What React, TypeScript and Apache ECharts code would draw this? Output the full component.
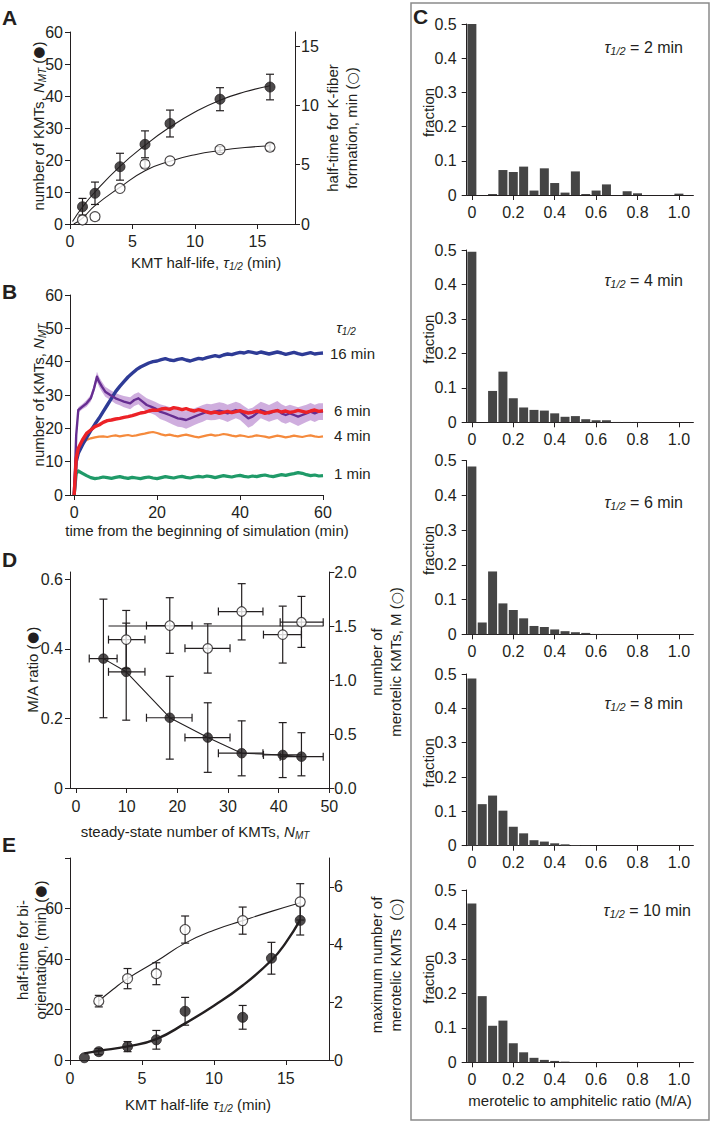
import React, { useEffect, useRef } from 'react';
import * as echarts from 'echarts';

const F = "'Liberation Sans Narrow','Liberation Sans',Arial,sans-serif";
const INK = '#231f20';

// ---------- Panel A ----------
const aTau = [1, 2, 4, 6, 8, 12, 16];
const aKmt = [5.4, 9.6, 17.9, 24.9, 31.4, 39.0, 42.8];
const aKmtErr = [2.6, 3.5, 4.2, 4.2, 4.2, 3.6, 4.0];
const aFiber = [0.34, 0.62, 3.0, 5.05, 5.33, 6.28, 6.48];
const aFiberErr = [0, 0, 0, 0.3, 0, 0.25, 0.3];
const aKmtFit = [[0.2, 0.8], [1, 5.3], [2, 10], [4, 18], [6, 24.6], [8, 30.3], [10, 35], [12, 38.7], [14, 41.3], [16, 43.2]];
const aFiberFit = [[0.3, 0], [1, 0.5], [2, 1.55], [4, 3.1], [6, 4.5], [8, 5.3], [10, 5.85], [12, 6.2], [14, 6.45], [16, 6.6]];
const aXTicks = [0, 5, 10, 15];
const aYTicks = [0, 10, 20, 30, 40, 50, 60];
const aY2Ticks = [0, 5, 10, 15];

// ---------- Panel B ----------
const bXTicks = [0, 20, 40, 60];
const bYTicks = [0, 10, 20, 30, 40, 50, 60];
const bBlue = [[0,0],[0.5,10],[1,12.5],[2,15],[3,17.2],[4,19.3],[5,21.2],[6,23],[7,25],[8,27],[9,29],[10,31],[11,32.6],[12,34],[13,35.4],[14,36.5],[15,37.6],[16,38.4],[17,39],[18,39.6],[19,40],[20,40.2],[21,40.6],[22,40.9],[23,40.5],[24,40.3],[25,40.7],[26,40.9],[27,40.5],[28,40.2],[29,40.6],[30,41],[31,40.8],[32,41.2],[33,41.5],[34,41.8],[35,41.5],[36,42],[37,42.3],[38,42.1],[39,42.5],[40,42.8],[41,42.6],[42,43],[43,42.8],[44,42.5],[45,42.9],[46,42.6],[47,42.3],[48,42.6],[49,42.9],[50,42.6],[51,42.2],[52,42.5],[53,42.8],[54,42.4],[55,42.1],[56,42.4],[57,42.7],[58,42.3],[59,42.5],[60,42.6]];
const bRed = [[0,0],[0.5,11],[1,14],[2,16.5],[3,18.5],[4,19.5],[5,20.5],[6,21],[7,21.8],[8,22.3],[9,22.5],[10,22.8],[11,23],[12,23.3],[13,23.5],[14,23.8],[15,24.2],[16,24.6],[17,24.8],[18,25.2],[19,25.5],[20,25.4],[21,25.8],[22,26],[23,25.7],[24,26.2],[25,26],[26,25.6],[27,25.9],[28,25.5],[29,25.2],[30,25.6],[31,25.3],[32,24.9],[33,24.6],[34,24.9],[35,24.5],[36,24.8],[37,25.1],[38,24.7],[39,25],[40,25.3],[41,24.9],[42,24.6],[43,24.8],[44,25.2],[45,24.9],[46,24.5],[47,24.8],[48,25.1],[49,25.3],[50,24.9],[51,25.2],[52,24.8],[53,25],[54,25.4],[55,25.1],[56,24.8],[57,25.2],[58,25.5],[59,25.1],[60,25.3]];
const bOrange = [[0,0],[0.5,12],[1,14],[2,15.5],[3,16.5],[4,17],[5,17.3],[6,17.5],[7,17.6],[8,17.4],[9,17.7],[10,17.9],[11,17.6],[12,17.8],[13,18],[14,17.7],[15,17.9],[16,18.2],[17,18.4],[18,18.7],[19,18.9],[20,18.6],[21,18.2],[22,17.9],[23,18.1],[24,17.8],[25,17.6],[26,17.9],[27,18.1],[28,17.8],[29,17.5],[30,17.3],[31,17.6],[32,17.9],[33,18.1],[34,17.8],[35,18],[36,18.3],[37,18.1],[38,17.8],[39,17.6],[40,17.9],[41,17.7],[42,17.4],[43,17.6],[44,17.9],[45,17.7],[46,17.5],[47,17.2],[48,17.5],[49,17.8],[50,17.6],[51,17.3],[52,17.5],[53,17.8],[54,17.6],[55,17.4],[56,17.7],[57,17.9],[58,17.6],[59,17.4],[60,17.6]];
const bGreen = [[0,0],[0.5,6.5],[1,7.2],[2,6.5],[3,5.8],[4,5.2],[5,4.9],[6,5.1],[7,5.4],[8,5.2],[9,5],[10,5.3],[11,5.5],[12,5.2],[13,5],[14,5.3],[15,5.1],[16,4.9],[17,5.2],[18,5.4],[19,5.1],[20,4.9],[21,5.2],[22,5.5],[23,5.3],[24,5.1],[25,5.4],[26,5.6],[27,5.3],[28,5.1],[29,5.4],[30,5.6],[31,5.4],[32,5.7],[33,5.5],[34,5.2],[35,5.5],[36,5.8],[37,5.6],[38,5.4],[39,5.7],[40,5.9],[41,5.6],[42,5.4],[43,5.7],[44,5.5],[45,5.8],[46,6],[47,5.7],[48,5.5],[49,5.8],[50,6.1],[51,5.9],[52,6.2],[53,6.4],[54,6.7],[55,6.5],[56,6.1],[57,5.8],[58,6],[59,5.7],[60,5.8]];
const bPurple = [[0,0],[0.5,18],[1,25.5],[2,26.5],[3,27.5],[4,29],[4.8,32],[5.5,35.5],[6,34],[6.7,32.5],[7.5,31],[8.7,30],[10,29],[11,28.5],[12,28],[13.5,27.5],[14.5,28.5],[15.5,29],[16.5,28],[17.5,27],[18.5,26.5],[19.5,26],[20.7,25],[22,24.5],[23,24],[24,23.5],[25,23],[26,22.8],[27,22.5],[28,23],[29,23.5],[30,24],[31,24.5],[32,25],[33,24.8],[34,25],[35,25.3],[36,25],[37,24.5],[38,25],[39,25.5],[40,25],[41,24],[42,23],[43,23.5],[44,24.5],[45,25.5],[46,25],[47,24.5],[48,25],[49,25.5],[50,24.5],[51,24],[52,24.5],[53,24],[54,23.5],[55,24],[56,24.5],[57,25],[58,24.5],[59,25],[60,25]];
const bPurpleSpread = [0,0.5,0.8,0.8,1,1,1.2,1.5,1.5,1.5,1.5,1.5,1.6,1.6,1.7,1.8,1.8,1.8,1.9,2,2,2,2.2,2.3,2.4,2.5,2.5,2.5,2.6,2.6,2.5,2.5,2.5,2.4,2.4,2.5,2.5,2.6,2.6,2.5,2.5,2.5,2.6,2.8,2.7,2.6,2.5,2.5,2.5,2.6,2.7,2.7,2.6,2.6,2.7,2.8,2.7,2.6,2.6,2.6,2.5,2.5];

// ---------- Panel D ----------
const dNmt = [5.4, 9.9, 18.5, 26, 32.7, 40.8, 44.5];
const dNmtLo = [2.6, 6.4, 13.9, 21.5, 28.1, 37, 40.3];
const dNmtHi = [8.1, 13.6, 22.9, 30.4, 36.9, 44.5, 48.8];
const dRatio = [0.372, 0.334, 0.202, 0.145, 0.1, 0.095, 0.09];
const dRatioLo = [0.202, 0.195, 0.083, 0.045, 0.035, 0.03, 0.035];
const dRatioHi = [0.543, 0.474, 0.321, 0.245, 0.193, 0.188, 0.159];
const dMeroX = [9.9, 18.5, 26, 32.7, 40.8, 44.5];
const dMeroXLo = [6.4, 13.9, 21.5, 28.1, 37, 40.3];
const dMeroXHi = [13.6, 22.9, 30.4, 36.9, 44.5, 48.8];
const dMero = [1.374, 1.504, 1.293, 1.634, 1.42, 1.535];
const dMeroLo = [1.107, 1.247, 1.064, 1.371, 1.157, 1.302];
const dMeroHi = [1.644, 1.762, 1.52, 1.892, 1.684, 1.774];
const dMeroMean = [[6.4, 1.5], [48.8, 1.5]];
const dXTicks = [0, 10, 20, 30, 40, 50];
const dYTicks = [0, 0.2, 0.4, 0.6];
const dY2Ticks = [0, 0.5, 1.0, 1.5, 2.0];

// ---------- Panel E ----------
const eTauF = [1, 2, 4, 6, 8, 12, 14, 16];
const eBi = [0.9, 3.3, 5.3, 8, 19.3, 16.9, 40.3, 55.3];
const eBiErr = [0, 1.2, 2, 3.7, 5.5, 4.7, 6.3, 5.8];
const eTauO = [2, 4, 6, 8, 12, 16];
const eMero = [2.04, 2.82, 2.99, 4.52, 4.83, 5.48];
const eMeroErr = [0.2, 0.35, 0.38, 0.47, 0.47, 0.63];
const eBiFit = [[1, 2.6], [2, 3.6], [4, 5.4], [6, 8.3], [8, 14.5], [10, 21.5], [12, 29.5], [14, 39.5], [15, 46.5], [16, 55.5]];
const eMeroFit = [[2, 2.04], [3, 2.45], [4, 2.82], [6, 3.42], [8, 4.05], [10, 4.5], [12, 4.83], [14, 5.15], [16, 5.45]];
const eXTicks = [0, 5, 10, 15];
const eYTicks = [0, 20, 40, 60, 80];
const eYLabels = [0, 20, 40, 60];
const eY2Ticks = [0, 2, 4, 6];

// ---------- Panel C ----------
const cBins = [0, 0.05, 0.1, 0.15, 0.2, 0.25, 0.3, 0.35, 0.4, 0.45, 0.5, 0.55, 0.6, 0.65, 0.7, 0.75, 0.8, 0.85, 0.9, 0.95, 1.0];
const cTau = [2, 4, 6, 8, 10];
const cFrac2 = [0.5, 0, 0.003, 0.073, 0.067, 0.083, 0.013, 0.078, 0.035, 0.007, 0.069, 0.003, 0.013, 0.031, 0, 0.011, 0.005, 0, 0, 0, 0.004];
const cFrac4 = [0.495, 0, 0.091, 0.147, 0.07, 0.043, 0.036, 0.034, 0.026, 0.016, 0.018, 0.009, 0.006, 0.006, 0.001, 0.001, 0.001, 0, 0, 0, 0];
const cFrac6 = [0.483, 0.034, 0.181, 0.089, 0.07, 0.046, 0.024, 0.021, 0.014, 0.009, 0.006, 0.004, 0.001, 0.001, 0, 0, 0, 0, 0, 0, 0];
const cFrac8 = [0.487, 0.121, 0.146, 0.102, 0.055, 0.036, 0.016, 0.012, 0.007, 0.004, 0.002, 0.001, 0, 0, 0, 0, 0, 0, 0, 0, 0];
const cFrac10 = [0.461, 0.192, 0.106, 0.121, 0.055, 0.029, 0.013, 0.007, 0.004, 0.002, 0.001, 0, 0, 0, 0, 0, 0, 0, 0, 0, 0];
const cXTicks = [0, 0.2, 0.4, 0.6, 0.8, 1.0];
const cYTicks = [0, 0.1, 0.2, 0.3, 0.4, 0.5];

// ---------- helpers ----------
const lineSt = { color: INK, width: 1 };

function xAx(gridIndex: number, min: number, max: number, ticks: number[], fmt?: any, margin = 9) {
  const label: any = { show: true, customValues: ticks, color: INK, fontSize: 16, fontFamily: F, margin };
  if (fmt) label.formatter = fmt;
  return {
    type: 'value', gridIndex, min, max,
    axisLine: { show: true, onZero: false, lineStyle: lineSt },
    axisTick: { show: true, length: 5, customValues: ticks, lineStyle: lineSt },
    axisLabel: label,
    splitLine: { show: false },
  };
}
function yAx(gridIndex: number, min: number, max: number, ticks: number[], labels: number[], position = 'left', fmt?: any, margin = 7) {
  const label: any = { show: true, customValues: labels, color: INK, fontSize: 16, fontFamily: F, margin };
  if (fmt) label.formatter = fmt;
  return {
    type: 'value', gridIndex, min, max, position,
    axisLine: { show: true, onZero: false, lineStyle: lineSt },
    axisTick: { show: true, length: 5, customValues: ticks, lineStyle: lineSt },
    axisLabel: label,
    splitLine: { show: false },
  };
}

const CAP = 4;
function vErrRender(params: any, api: any) {
  const x = api.value(0), lo = api.value(2), hi = api.value(3);
  if (!(hi > lo)) return null;
  const a = api.coord([x, lo]), b = api.coord([x, hi]);
  const st = { stroke: INK, lineWidth: 1.2 };
  return {
    type: 'group', children: [
      { type: 'line', shape: { x1: a[0], y1: a[1], x2: b[0], y2: b[1] }, style: st },
      { type: 'line', shape: { x1: a[0] - CAP, y1: a[1], x2: a[0] + CAP, y2: a[1] }, style: st },
      { type: 'line', shape: { x1: b[0] - CAP, y1: b[1], x2: b[0] + CAP, y2: b[1] }, style: st },
    ],
  };
}
function hErrRender(params: any, api: any) {
  const y = api.value(1), lo = api.value(2), hi = api.value(3);
  const a = api.coord([lo, y]), b = api.coord([hi, y]);
  const st = { stroke: INK, lineWidth: 1.2 };
  return {
    type: 'group', children: [
      { type: 'line', shape: { x1: a[0], y1: a[1], x2: b[0], y2: b[1] }, style: st },
      { type: 'line', shape: { x1: a[0], y1: a[1] - CAP, x2: a[0], y2: a[1] + CAP }, style: st },
      { type: 'line', shape: { x1: b[0], y1: b[1] - CAP, x2: b[0], y2: b[1] + CAP }, style: st },
    ],
  };
}
function errSeries(xi: number, yi: number, data: number[][], horizontal = false) {
  return { type: 'custom', xAxisIndex: xi, yAxisIndex: yi, data, renderItem: horizontal ? hErrRender : vErrRender, z: 3, silent: true };
}
function dots(xi: number, yi: number, data: number[][], filled: boolean, size = 9.5) {
  return {
    type: 'scatter', xAxisIndex: xi, yAxisIndex: yi, data, symbol: 'circle', symbolSize: size, z: 5, silent: true,
    itemStyle: filled ? { color: INK, borderColor: INK, borderWidth: 1 } : { color: '#fff', borderColor: INK, borderWidth: 1.2 },
  };
}
function curve(xi: number, yi: number, data: number[][], width = 1.1, smooth: any = true) {
  return { type: 'line', xAxisIndex: xi, yAxisIndex: yi, data, smooth, showSymbol: false, symbol: 'none', z: 2, silent: true, lineStyle: { color: INK, width } };
}
function simLine(data: number[][], color: string, width: number, z: number) {
  return { type: 'line', xAxisIndex: 1, yAxisIndex: 2, data, showSymbol: false, symbol: 'none', z, silent: true, lineStyle: { color, width, join: 'round' } };
}

function rich(size: number, lh: number) {
  return {
    n: { fontSize: size, fontFamily: F, fill: INK, lineHeight: lh },
    i: { fontSize: size, fontFamily: F, fill: INK, fontStyle: 'italic', lineHeight: lh },
    s: { fontSize: Math.round(size * 0.66), fontFamily: F, fill: INK, fontStyle: 'italic', verticalAlign: 'bottom' },
    b: { fontSize: size - 1, fontFamily: "'DejaVu Sans',sans-serif", fill: INK, lineHeight: lh },
  };
}
function txt(x: number, y: number, text: string, o: any = {}) {
  const size = o.size || 15;
  const lh = o.lh || Math.round(size * 1.2);
  return {
    type: 'text', x, y, rotation: o.rot || 0, z: 10, silent: true,
    style: {
      text, fill: INK, fontSize: size, fontFamily: o.family || F, fontWeight: o.weight || 'normal',
      align: o.align || 'center', verticalAlign: o.va || 'middle', lineHeight: lh, rich: rich(size, lh),
    },
  };
}
const R90 = Math.PI / 2;
const TAU = '{i|τ}{s|1/2}';
const FILLED = ' ({b|●})';
const OPEN = ' ({b|○})';

const pair = (xs: number[], ys: number[]) => xs.map((x, i) => [x, ys[i]]);
const vErrData = (xs: number[], ys: number[], err: number[]) => xs.map((x, i) => [x, ys[i], ys[i] - err[i], ys[i] + err[i]]);
const loHiData = (xs: number[], ys: number[], lo: number[], hi: number[]) => xs.map((x, i) => [x, ys[i], lo[i], hi[i]]);

function buildOption() {
  const cTops = [24, 250, 460.7, 674, 890];
  const cBottoms = [195, 422.3, 634.3, 845.7, 1062.3];
  const cLeft = 466.7, cWidth = 226.7;
  const cSets = [cFrac2, cFrac4, cFrac6, cFrac8, cFrac10];

  const grid: any[] = [
    { left: 70, top: 32, width: 225, height: 192 },
    { left: 70, top: 295, width: 253, height: 200 },
    { left: 70, top: 572, width: 259.3, height: 216 },
    { left: 70, top: 858, width: 259, height: 202 },
  ];
  cTops.forEach((t, k) => grid.push({ left: cLeft, top: t, width: cWidth, height: cBottoms[k] - t }));

  const cxFmt = (v: number) => (v === 0 ? '0' : v.toFixed(1));
  const xAxis: any[] = [
    xAx(0, 0, 18, aXTicks),
    xAx(1, -1, 60, bXTicks),
    xAx(2, -1.2, 50, dXTicks, undefined, 10),
    xAx(3, 0, 18, eXTicks, undefined, 10),
  ];
  for (let k = 0; k < 5; k++) xAxis.push(xAx(4 + k, -0.025, 1.07, cXTicks, cxFmt, 9));

  const yAxis: any[] = [
    yAx(0, 0, 60, aYTicks, aYTicks),
    yAx(0, 0, 16.2, aY2Ticks, aY2Ticks, 'right', undefined, 6),
    yAx(1, 0, 60, bYTicks, bYTicks),
    yAx(2, 0, 0.621, dYTicks, dYTicks, 'left', (v: number) => (v === 0 ? '0' : String(v))),
    yAx(2, 0, 2.0, dY2Ticks, dY2Ticks, 'right', (v: number) => v.toFixed(1), 5),
    yAx(3, 0, 80, eYTicks, eYLabels),
    yAx(3, 0, 7, eY2Ticks, eY2Ticks, 'right', undefined, 5),
  ];
  for (let k = 0; k < 5; k++) yAxis.push(yAx(4 + k, 0, 0.5, cYTicks, cYTicks, 'left', (v: number) => (v === 0 ? '0' : String(v)), 10));

  const bandLo = bPurple.map((p, i) => [p[0], p[1] - (bPurpleSpread[i] ?? 2)]);
  const bandHi = bPurple.map((p, i) => [p[0], p[1] + (bPurpleSpread[i] ?? 2)]);

  const series: any[] = [
    // A
    curve(0, 0, aKmtFit),
    curve(0, 1, aFiberFit),
    errSeries(0, 0, vErrData(aTau, aKmt, aKmtErr)),
    errSeries(0, 1, vErrData(aTau, aFiber, aFiberErr)),
    dots(0, 0, pair(aTau, aKmt), true, 10),
    dots(0, 1, pair(aTau, aFiber), false, 10),
    // B
    simLine(bGreen, '#1f9a68', 3.2, 2),
    simLine(bOrange, '#f58a3c', 2.2, 2),
    simLine(bBlue, '#2e3b96', 3.4, 3),
    {
      type: 'custom', xAxisIndex: 1, yAxisIndex: 2, data: [[0, 0]], z: 3, silent: true,
      renderItem: (params: any, api: any) => {
        const pts = bandHi.map((p) => api.coord(p)).concat(bandLo.slice().reverse().map((p) => api.coord(p)));
        return { type: 'polygon', shape: { points: pts }, style: { fill: '#c7a0d8', opacity: 0.85 } };
      },
    },
    simLine(bPurple, '#662d91', 2.4, 4),
    simLine(bRed, '#ec2227', 3.4, 5),
    // D
    curve(2, 3, pair(dNmt, dRatio), 1.1, false),
    curve(2, 4, dMeroMean, 1.1, false),
    errSeries(2, 3, loHiData(dNmt, dRatio, dRatioLo, dRatioHi)),
    errSeries(2, 3, loHiData(dNmt, dRatio, dNmtLo, dNmtHi), true),
    errSeries(2, 4, loHiData(dMeroX, dMero, dMeroLo, dMeroHi)),
    errSeries(2, 4, loHiData(dMeroX, dMero, dMeroXLo, dMeroXHi), true),
    dots(2, 3, pair(dNmt, dRatio), true),
    dots(2, 4, pair(dMeroX, dMero), false),
    // E
    curve(3, 5, eBiFit, 2.4),
    curve(3, 6, eMeroFit, 1.1),
    errSeries(3, 5, vErrData(eTauF, eBi, eBiErr)),
    errSeries(3, 6, vErrData(eTauO, eMero, eMeroErr)),
    dots(3, 5, pair(eTauF, eBi), true, 10),
    dots(3, 6, pair(eTauO, eMero), false, 10),
  ];
  cSets.forEach((vals, k) => {
    series.push({
      type: 'bar', xAxisIndex: 4 + k, yAxisIndex: 7 + k, data: pair(cBins, vals), barWidth: 9,
      itemStyle: { color: '#454545' }, silent: true, z: 2,
    });
  });

  const LF = "'Liberation Sans',Arial,sans-serif";
  const g: any[] = [
    { type: 'rect', shape: { x: 411, y: 3, width: 298, height: 1117 }, style: { fill: 'none', stroke: '#8a8a8a', lineWidth: 1.5 }, z: 0, silent: true },
    // panel letters
    txt(2, 17, 'A', { size: 21, weight: 'bold', family: LF, align: 'left' }),
    txt(2, 291, 'B', { size: 21, weight: 'bold', family: LF, align: 'left' }),
    txt(2, 559, 'D', { size: 21, weight: 'bold', family: LF, align: 'left' }),
    txt(2, 844, 'E', { size: 21, weight: 'bold', family: LF, align: 'left' }),
    txt(413, 16, 'C', { size: 21, weight: 'bold', family: LF, align: 'left' }),
    // A titles
    txt(38, 126, 'number of KMTs, {i|N}{s|MT}' + FILLED, { rot: R90 }),
    txt(342, 128, 'half-time for K-fiber\nformation, min' + OPEN, { rot: R90, lh: 19 }),
    txt(206, 262, 'KMT half-life, ' + TAU + ' (min)'),
    // B titles
    txt(38, 395, 'number of KMTs, {i|N}{s|MT}', { rot: R90 }),
    txt(207, 530, 'time from the beginning of simulation (min)'),
    txt(346, 327, TAU),
    txt(330, 353, '16 min', { align: 'left' }),
    txt(334, 410, '6 min', { align: 'left' }),
    txt(334, 435, '4 min', { align: 'left' }),
    txt(334, 473, '1 min', { align: 'left' }),
    // D titles
    txt(32, 670, 'M/A ratio' + FILLED, { rot: R90 }),
    txt(386, 662, 'number of\nmerotelic KMTs, M' + OPEN, { rot: R90, lh: 19 }),
    txt(195, 831, 'steady-state number of KMTs, {i|N}{s|MT}'),
    // E titles
    txt(31, 950, 'half-time for bi-\norientation, (min)' + FILLED, { rot: R90, lh: 18 }),
    txt(386, 965, 'maximum number of\nmerotelic KMTs ' + OPEN, { rot: R90, lh: 19 }),
    txt(198, 1104, 'KMT half-life ' + TAU + ' (min)'),
    // C texts
    txt(580, 1100, 'merotelic to amphitelic ratio (M/A)'),
  ];
  const tauRight = [683, 683, 683, 683, 691];
  const tauY = [47, 280, 502, 703, 910];
  cTops.forEach((t, k) => {
    g.push(txt(428, (t + cBottoms[k]) / 2 + 3, 'fraction', { rot: R90 }));
    g.push(txt(tauRight[k], tauY[k], TAU + ' = ' + cTau[k] + ' min', { align: 'right', size: 16 }));
  });

  return {
    animation: false,
    backgroundColor: '#fff',
    grid, xAxis, yAxis, series,
    graphic: { elements: g },
  };
}

export default function App() {
  const ref = useRef<HTMLDivElement>(null);
  useEffect(() => {
    if (!ref.current) return;
    const chart = echarts.init(ref.current, null, { renderer: 'svg' });
    chart.setOption(buildOption() as any);
    return () => chart.dispose();
  }, []);
  return <div ref={ref} style={{ position: 'absolute', left: 0, top: 0, width: 712, height: 1123 }} />;
}
